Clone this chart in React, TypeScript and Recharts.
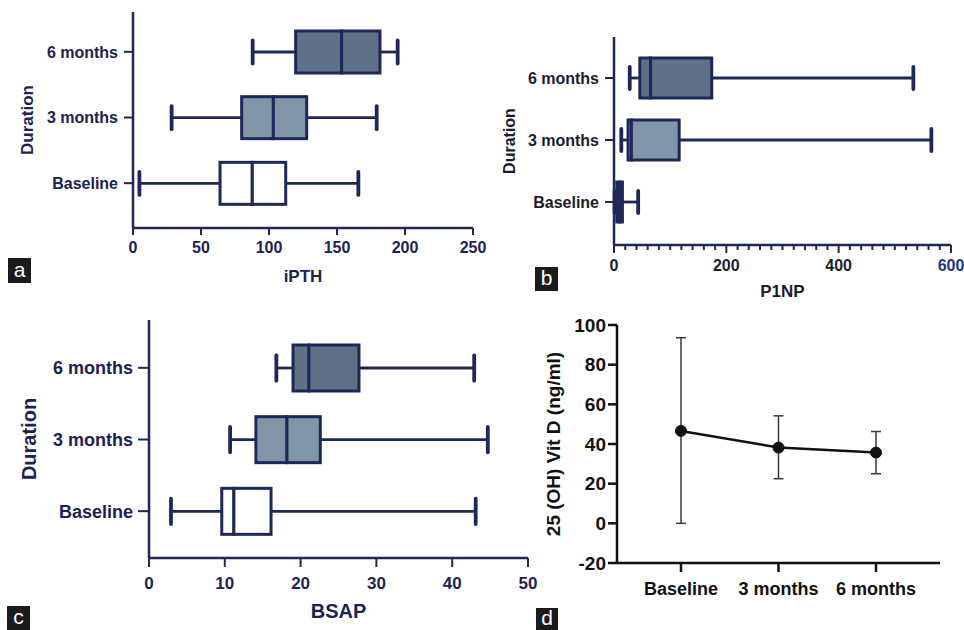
import { BarChart, Bar, XAxis, YAxis, LineChart, Line, ErrorBar } from "recharts";

const durations = ["Baseline", "3 months", "6 months"];

// iPTH box plot
const ipthMin = [4.7, 28.4, 88];
const ipthQ1 = [64, 79.9, 119.6];
const ipthMedian = [87.7, 103.2, 153.4];
const ipthQ3 = [112.3, 127.7, 181.6];
const ipthMax = [165.7, 179.2, 194.6];
const ipthTicks = [0, 50, 100, 150, 200, 250];

// P1NP box plot
const p1npMin = [1, 13, 28];
const p1npQ1 = [5, 25, 46];
const p1npMedian = [10, 31, 65];
const p1npQ3 = [15, 116, 174];
const p1npMax = [43, 565, 533];
const p1npMajor = [0, 200, 400, 600];
const p1npTicks = Array.from({ length: 31 }, (_, i) => i * 20);

// BSAP box plot
const bsapMin = [2.9, 10.7, 16.8];
const bsapQ1 = [9.6, 14.1, 19.0];
const bsapMedian = [11.2, 18.2, 21.1];
const bsapQ3 = [16.1, 22.6, 27.7];
const bsapMax = [43.1, 44.7, 42.9];
const bsapTicks = [0, 10, 20, 30, 40, 50];

// 25 (OH) Vit D, mean with range
const vitMean = [46.6, 38.2, 35.7];
const vitLow = [0, 22.5, 25];
const vitHigh = [93.6, 54.2, 46.3];
const vitTicks = [-20, 0, 20, 40, 60, 80, 100];

const NAVY = "#1e2858";
const INK = "#1c2352";
const FONT = "'Liberation Sans', Arial, sans-serif";
const boxFill: Record<string, string> = {
  Baseline: "#ffffff",
  "3 months": "#8195a9",
  "6 months": "#5f7187",
};

// stacked segments: hidden base, low whisker, lower box, upper box, high whisker
function toBoxRows(min: number[], q1: number[], med: number[], q3: number[], max: number[]) {
  return durations
    .map((name, i) => ({
      name,
      base: min[i],
      lowW: q1[i] - min[i],
      boxLo: med[i] - q1[i],
      boxHi: q3[i] - med[i],
      highW: max[i] - q3[i],
    }))
    .reverse();
}

const ipthRows = toBoxRows(ipthMin, ipthQ1, ipthMedian, ipthQ3, ipthMax);
const p1npRows = toBoxRows(p1npMin, p1npQ1, p1npMedian, p1npQ3, p1npMax);
const bsapRows = toBoxRows(bsapMin, bsapQ1, bsapMedian, bsapQ3, bsapMax);
const vitRows = durations.map((name, i) => ({
  name,
  mean: vitMean[i],
  err: [vitMean[i] - vitLow[i], vitHigh[i] - vitMean[i]],
}));

const Hidden = () => <g />;

const WhiskerLow = (p: any) => {
  const cy = p.y + p.height / 2;
  const cap = p.height * 0.55;
  return (
    <g>
      <line x1={p.x} x2={p.x + p.width} y1={cy} y2={cy} stroke={NAVY} strokeWidth={2.8} />
      <line x1={p.x} x2={p.x} y1={cy - cap / 2} y2={cy + cap / 2} stroke={NAVY} strokeWidth={3.8} strokeLinecap="round" />
    </g>
  );
};

const WhiskerHigh = (p: any) => {
  const cy = p.y + p.height / 2;
  const cap = p.height * 0.55;
  const xe = p.x + p.width;
  return (
    <g>
      <line x1={p.x} x2={xe} y1={cy} y2={cy} stroke={NAVY} strokeWidth={2.8} />
      <line x1={xe} x2={xe} y1={cy - cap / 2} y2={cy + cap / 2} stroke={NAVY} strokeWidth={3.8} strokeLinecap="round" />
    </g>
  );
};

const BoxPart = (p: any) => (
  <rect
    x={p.x}
    y={p.y}
    width={Math.max(p.width, 0.5)}
    height={p.height}
    fill={boxFill[p.payload.name]}
    stroke={NAVY}
    strokeWidth={3}
  />
);

const P1npTick = ({ x, y, payload }: any) => {
  const major = p1npMajor.includes(payload.value);
  return (
    <g>
      <line x1={x} x2={x} y1={y} y2={y + (major ? 8 : 5)} stroke={NAVY} strokeWidth={2} />
      {major && (
        <text x={x} y={y + 26} textAnchor="middle" fontSize={16} fontWeight={700} fontFamily={FONT} fill={payload.value === 600 ? "#23357a" : "#1a1c2c"}>
          {payload.value}
        </text>
      )}
    </g>
  );
};

type BoxProps = {
  data: any[];
  width: number;
  height: number;
  margin: { top: number; right: number; bottom: number; left: number };
  yWidth: number;
  yPad: { top: number; bottom: number };
  barSize: number;
  domain: [number, number];
  ticks: number[];
  xHeight: number;
  title: string;
  titleOffset: number;
  durOffset: number;
  durSize: number;
  catSize: number;
  catTickSize: number;
  catMargin: number;
  tickSize: number;
  tickMargin: number;
  tickFont: number;
  titleSize: number;
  ink: string;
  customTick?: boolean;
};

function BoxPanel(o: BoxProps) {
  const bold = { fontWeight: 700, fontFamily: FONT, fill: o.ink };
  return (
    <BarChart layout="vertical" width={o.width} height={o.height} data={o.data} margin={o.margin}>
      <XAxis
        type="number"
        domain={o.domain}
        ticks={o.customTick ? p1npTicks : o.ticks}
        interval={0}
        height={o.xHeight}
        axisLine={{ stroke: NAVY, strokeWidth: 2.5 }}
        tickLine={o.customTick ? false : { stroke: NAVY, strokeWidth: 2 }}
        tickSize={o.customTick ? 0 : o.tickSize}
        tickMargin={o.customTick ? 0 : o.tickMargin}
        tick={o.customTick ? <P1npTick /> : { ...bold, fontSize: o.tickFont }}
        label={{
          value: o.title,
          position: "insideBottom",
          offset: o.titleOffset,
          style: { ...bold, fontSize: o.titleSize },
        }}
      />
      <YAxis
        type="category"
        dataKey="name"
        width={o.yWidth}
        padding={o.yPad}
        axisLine={{ stroke: NAVY, strokeWidth: 2.5 }}
        tickLine={{ stroke: NAVY, strokeWidth: 2 }}
        tickSize={o.catTickSize}
        tickMargin={o.catMargin}
        tick={{ ...bold, fontSize: o.catSize }}
        label={{
          value: "Duration",
          angle: -90,
          position: "insideLeft",
          offset: o.durOffset,
          style: { ...bold, fontSize: o.durSize, textAnchor: "middle" },
        }}
      />
      <Bar dataKey="base" stackId="b" barSize={o.barSize} shape={<Hidden />} isAnimationActive={false} />
      <Bar dataKey="lowW" stackId="b" barSize={o.barSize} shape={<WhiskerLow />} isAnimationActive={false} />
      <Bar dataKey="boxLo" stackId="b" barSize={o.barSize} shape={<BoxPart />} isAnimationActive={false} />
      <Bar dataKey="boxHi" stackId="b" barSize={o.barSize} shape={<BoxPart />} isAnimationActive={false} />
      <Bar dataKey="highW" stackId="b" barSize={o.barSize} shape={<WhiskerHigh />} isAnimationActive={false} />
    </BarChart>
  );
}

const tag = (left: number, top: number, w: number, h: number, text: string) => (
  <div
    style={{
      position: "absolute",
      left,
      top,
      width: w,
      height: h,
      background: "#1b1b1b",
      color: "#fff",
      fontFamily: FONT,
      fontSize: 21,
      lineHeight: `${h - 2}px`,
      textAlign: "center",
    }}
  >
    {text}
  </div>
);

export default function App() {
  const dText = { fontWeight: 700, fontFamily: FONT, fill: "#111" };
  return (
    <div style={{ position: "absolute", left: 0, top: 0, width: 964, height: 630, background: "#fff", overflow: "hidden" }}>
      <div style={{ position: "absolute", left: 0, top: 0 }}>
        <BoxPanel
          data={ipthRows}
          width={500}
          height={290}
          margin={{ top: 12, right: 27, bottom: 2, left: 0 }}
          yWidth={133}
          yPad={{ top: 7, bottom: 12 }}
          barSize={42}
          domain={[0, 250]}
          ticks={ipthTicks}
          xHeight={60}
          title="iPTH"
          titleOffset={6}
          durOffset={27}
          durSize={17}
          catSize={16}
          catTickSize={9}
          catMargin={6}
          tickSize={7}
          tickMargin={7}
          tickFont={16}
          titleSize={17}
          ink={INK}
        />
      </div>
      <div style={{ position: "absolute", left: 480, top: 0 }}>
        <BoxPanel
          data={p1npRows}
          width={484}
          height={300}
          margin={{ top: 37, right: 13, bottom: 0, left: 0 }}
          yWidth={134}
          yPad={{ top: 10, bottom: 12 }}
          barSize={40}
          domain={[0, 600]}
          ticks={p1npMajor}
          xHeight={55}
          title="P1NP"
          titleOffset={3}
          durOffset={29}
          durSize={16}
          catSize={16}
          catTickSize={9}
          catMargin={6}
          tickSize={7}
          tickMargin={7}
          tickFont={16}
          titleSize={17}
          ink="#1a1c2c"
          customTick
        />
      </div>
      <div style={{ position: "absolute", left: 0, top: 300 }}>
        <BoxPanel
          data={bsapRows}
          width={560}
          height={330}
          margin={{ top: 20, right: 32, bottom: 0, left: 0 }}
          yWidth={149}
          yPad={{ top: 12, bottom: 11 }}
          barSize={46}
          domain={[0, 50]}
          ticks={bsapTicks}
          xHeight={72}
          title="BSAP"
          titleOffset={12}
          durOffset={29}
          durSize={20}
          catSize={18}
          catTickSize={11}
          catMargin={5}
          tickSize={9}
          tickMargin={10}
          tickFont={17}
          titleSize={20}
          ink={INK}
        />
      </div>
      <div style={{ position: "absolute", left: 540, top: 300 }}>
        <LineChart width={424} height={330} data={vitRows} margin={{ top: 25, right: 24, bottom: 0, left: 0 }}>
          <XAxis
            dataKey="name"
            interval={0}
            padding={{ left: 64, right: 64 }}
            height={67}
            axisLine={{ stroke: "#111", strokeWidth: 2.5 }}
            tickLine={{ stroke: "#111", strokeWidth: 2.5 }}
            tickSize={9}
            tickMargin={10}
            tick={{ ...dText, fontSize: 18 }}
          />
          <YAxis
            domain={[-20, 100]}
            ticks={vitTicks}
            interval={0}
            width={77}
            axisLine={{ stroke: "#111", strokeWidth: 2.5 }}
            tickLine={{ stroke: "#111", strokeWidth: 2.5 }}
            tickSize={9}
            tickMargin={2}
            tick={{ ...dText, fontSize: 19 }}
            label={{
              value: "25 (OH) Vit D (ng/ml)",
              angle: -90,
              position: "insideLeft",
              offset: 13,
              style: { ...dText, fontSize: 19, textAnchor: "middle" },
            }}
          />
          <Line
            dataKey="mean"
            stroke="#111"
            strokeWidth={2.5}
            dot={{ r: 5.5, fill: "#111", stroke: "#111", strokeWidth: 1 }}
            isAnimationActive={false}
          >
            <ErrorBar dataKey="err" direction="y" width={5} stroke="#3a3a3a" strokeWidth={1.5} isAnimationActive={false} />
          </Line>
        </LineChart>
      </div>
      {tag(8, 258, 23, 25, "a")}
      {tag(535, 267, 23, 24, "b")}
      {tag(7, 606, 23, 24, "c")}
      {tag(536, 608, 22, 22, "d")}
    </div>
  );
}
